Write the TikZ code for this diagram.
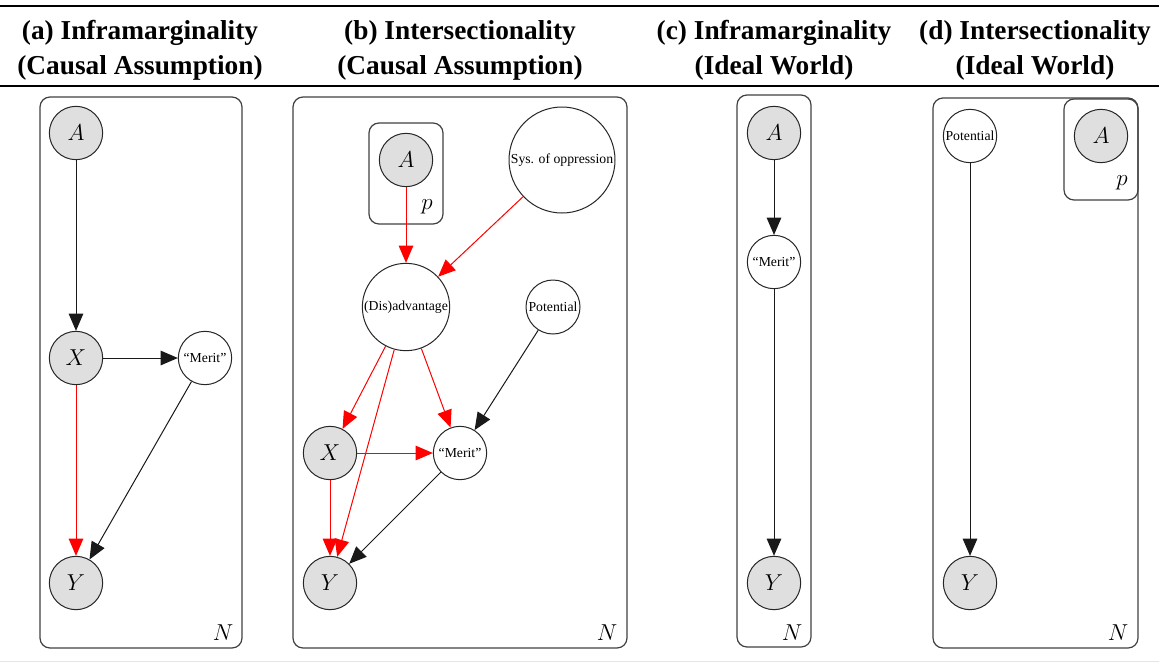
\documentclass[tikz,border=0pt]{standalone}
\usepackage{fontspec}
\setmainfont{Liberation Serif}
\usetikzlibrary{arrows.meta}
\begin{document}
\begin{tikzpicture}[x=0.75pt,y=-0.75pt,
  obs/.style={circle,draw=black!85,fill=gray!25,line width=0.75pt,minimum size=40pt,inner sep=0pt,font=\fontsize{19}{19}\selectfont},
  lat/.style={circle,draw=black!85,fill=white,line width=0.75pt,minimum size=40pt,inner sep=0pt,font=\fontsize{10.3}{12}\selectfont},
  platebox/.style={draw=black!75,line width=0.9pt,rounded corners=7.5pt},
  lbl/.style={inner sep=0pt,font=\fontsize{18}{18}\selectfont},
  ttl/.style={anchor=base,inner sep=0pt,font=\bfseries\fontsize{20.5}{25}\selectfont},
  edge/.style={-{Triangle[length=13pt,width=11pt]},line width=0.75pt,color=black!90},
  redge/.style={edge,color=red}]
\useasboundingbox (0,0) rectangle (1159,664);
% rules
\draw[line width=1.6pt] (0,6) -- (1159,6);
\draw[line width=0.9pt] (0,86) -- (1159,86);
\draw[black!10,line width=0.75pt] (0,661) -- (1159,661);
% titles
\node[ttl] (t1a) at (140,39) {(a) Inframarginality};
\node[ttl] (t1b) at (140,74) {(Causal Assumption)};
\node[ttl] (t2a) at (460,39) {(b) Intersectionality};
\node[ttl] (t2b) at (460,74) {(Causal Assumption)};
\node[ttl] (t3a) at (774,39) {(c) Inframarginality};
\node[ttl] (t3b) at (774,74) {(Ideal World)};
\node[ttl] (t4a) at (1035,39) {(d) Intersectionality};
\node[ttl] (t4b) at (1035,74) {(Ideal World)};
% panel (a)
\draw[platebox] (40,97) rectangle (242,648);
\node[obs] (aA) at (76,133) {$A$};
\node[obs] (aX) at (76,358) {$X$};
\node[lat] (aM) at (205,358) {“Merit”};
\node[obs] (aY) at (76,583) {$Y$};
\node[lbl] (aN) at (223,633) {$N$};
\draw[edge] (aA) -- (aX);
\draw[edge] (aX) -- (aM);
\draw[redge] (aX) -- (aY);
\draw[edge] (aM) -- (aY);
% panel (b)
\draw[platebox] (293,97) rectangle (627,648);
\draw[platebox] (369,123) rectangle (443,224);
\node[obs] (bA) at (406,160) {$A$};
\node[lbl] (bp) at (427,207) {$p$};
\node[lat,minimum size=79.5pt] (bS) at (562,160) {Sys. of oppression};
\node[lat,minimum size=65.5pt] (bD) at (406,307) {(Dis)advantage};
\node[lat,minimum size=40.5pt] (bP) at (553,307) {Potential};
\node[obs] (bX) at (330,453) {$X$};
\node[lat] (bM) at (460,453) {“Merit”};
\node[obs] (bY) at (330,583) {$Y$};
\node[lbl] (bN) at (607,633) {$N$};
\draw[redge] (bA) -- (bD);
\draw[redge] (bS) -- (bD);
\draw[redge] (bD) -- (bX);
\draw[redge] (bD) -- (bY);
\draw[redge] (bD) -- (bM);
\draw[edge] (bP) -- (bM);
\draw[redge] (bX) -- (bM);
\draw[redge] (bX) -- (bY);
\draw[edge] (bM) -- (bY);
% panel (c)
\draw[platebox] (737,95) rectangle (811,647);
\node[obs] (cA) at (774,133) {$A$};
\node[lat] (cM) at (774,262) {“Merit”};
\node[obs] (cY) at (774,583) {$Y$};
\node[lbl] (cN) at (792,633) {$N$};
\draw[edge] (cA) -- (cM);
\draw[edge] (cM) -- (cY);
% panel (d)
\draw[platebox] (933,98) rectangle (1138,648);
\node[lat] (dP) at (970,136) {Potential};
\draw[platebox] (1064,99) rectangle (1138,200);
\node[obs] (dA) at (1101,136) {$A$};
\node[lbl] (dp) at (1122,183) {$p$};
\node[obs] (dY) at (970,583) {$Y$};
\node[lbl] (dN) at (1118,633) {$N$};
\draw[edge] (dP) -- (dY);
\end{tikzpicture}
\end{document}
